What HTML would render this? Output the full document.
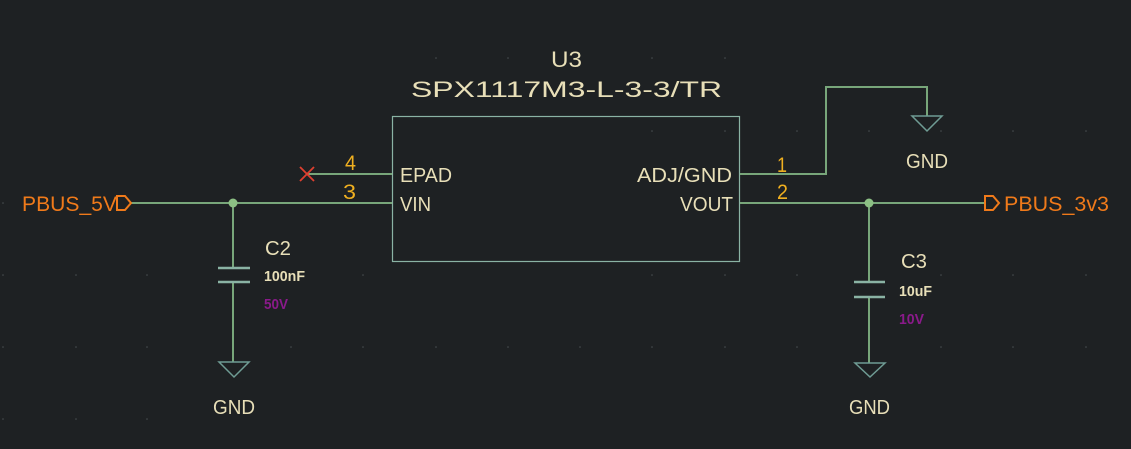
<!DOCTYPE html>
<html><head><meta charset="utf-8"><style>
html,body{margin:0;padding:0;background:#1e2123;}
svg{display:block;}
text{font-family:"Liberation Sans",sans-serif;}
</style></head><body>
<svg width="1131" height="449" viewBox="0 0 1131 449" xmlns="http://www.w3.org/2000/svg">
<rect width="1131" height="449" fill="#1e2123"/>
<g fill="#4a4f52">
<circle cx="3" cy="203" r="0.8"/><circle cx="3" cy="275" r="0.8"/><circle cx="3" cy="347" r="0.8"/><circle cx="3" cy="419" r="0.8"/>
<circle cx="76" cy="275" r="0.8"/><circle cx="76" cy="347" r="0.8"/><circle cx="76" cy="419" r="0.8"/>
<circle cx="147" cy="275" r="0.8"/><circle cx="147" cy="347" r="0.8"/><circle cx="147" cy="419" r="0.8"/>
<circle cx="436" cy="58" r="0.8"/><circle cx="508" cy="58" r="0.8"/><circle cx="652" cy="58" r="0.8"/><circle cx="725" cy="58" r="0.8"/>
<circle cx="652" cy="131" r="0.8"/><circle cx="725" cy="131" r="0.8"/><circle cx="797" cy="131" r="0.8"/><circle cx="869" cy="131" r="0.8"/><circle cx="941" cy="131" r="0.8"/><circle cx="1013" cy="131" r="0.8"/><circle cx="1086" cy="131" r="0.8"/>
<circle cx="652" cy="275" r="0.8"/><circle cx="725" cy="275" r="0.8"/><circle cx="797" cy="275" r="0.8"/><circle cx="941" cy="275" r="0.8"/><circle cx="1013" cy="275" r="0.8"/><circle cx="1086" cy="275" r="0.8"/>
<circle cx="652" cy="347" r="0.8"/><circle cx="725" cy="347" r="0.8"/><circle cx="797" cy="347" r="0.8"/><circle cx="941" cy="347" r="0.8"/><circle cx="1013" cy="347" r="0.8"/><circle cx="1086" cy="347" r="0.8"/>
<circle cx="363" cy="275" r="0.8"/><circle cx="363" cy="347" r="0.8"/><circle cx="291" cy="347" r="0.8"/><circle cx="436" cy="347" r="0.8"/><circle cx="508" cy="347" r="0.8"/><circle cx="580" cy="347" r="0.8"/>
</g>
<!-- box -->
<rect x="392.5" y="116.5" width="347" height="145" fill="none" stroke="#8ab3a4" stroke-width="1.2"/>
<!-- wires -->
<g stroke="#78a67a" stroke-width="2" fill="none">
<path d="M130 203H392"/>
<path d="M307 174H392"/>
<path d="M740 174H826V87H927V116"/>
<path d="M740 203H985"/>
<path d="M233 203V268M233 282V362"/>
<path d="M869 203V282M869 297V363"/>
</g>
<g fill="#8cc084"><circle cx="233" cy="203" r="4.5"/><circle cx="869" cy="203" r="4.5"/></g>
<!-- cap plates -->
<g stroke="#8ab3a4" stroke-width="2.5">
<path d="M218 268H250M218 282H250"/>
<path d="M854 282H885M854 297H885"/>
</g>
<!-- GND symbols -->
<g stroke="#6f9c94" stroke-width="1.5" fill="none">
<path d="M219 362H249L234 377Z"/>
<path d="M855 363H885L870 377Z"/>
<path d="M912 116H942L927 131Z"/>
</g>
<!-- no connect -->
<path d="M300 167L314 181M314 167L300 181" stroke="#e04030" stroke-width="1.8"/>
<!-- port flags -->
<g stroke="#f07a1a" stroke-width="2" fill="none">
<path d="M117 196H125L131 203L125 210H117Z"/>
<path d="M985 196H993L999 203L993 210H985Z"/>
</g>
<!-- texts -->
<g fill="#e8dfb8" font-size="22">
<text x="551" y="67" textLength="31" lengthAdjust="spacingAndGlyphs">U3</text>
<text x="411" y="97" textLength="311" lengthAdjust="spacingAndGlyphs">SPX1117M3-L-3-3/TR</text>
<text x="400" y="182" font-size="20" textLength="52" lengthAdjust="spacingAndGlyphs">EPAD</text>
<text x="400" y="211" font-size="20" textLength="31" lengthAdjust="spacingAndGlyphs">VIN</text>
<text x="637" y="182" font-size="20" textLength="95" lengthAdjust="spacingAndGlyphs">ADJ/GND</text>
<text x="680" y="211" font-size="20" textLength="53" lengthAdjust="spacingAndGlyphs">VOUT</text>
<text x="906" y="168" font-size="20" textLength="42" lengthAdjust="spacingAndGlyphs">GND</text>
<text x="213" y="414" font-size="20" textLength="42" lengthAdjust="spacingAndGlyphs">GND</text>
<text x="849" y="414" font-size="20" textLength="41" lengthAdjust="spacingAndGlyphs">GND</text>
<text x="265" y="255" font-size="20" textLength="26" lengthAdjust="spacingAndGlyphs">C2</text>
<text x="901" y="268" font-size="20" textLength="26" lengthAdjust="spacingAndGlyphs">C3</text>
<text x="264" y="281" font-size="15" font-weight="bold" textLength="41" lengthAdjust="spacingAndGlyphs">100nF</text>
<text x="899" y="296" font-size="15" font-weight="bold" textLength="33" lengthAdjust="spacingAndGlyphs">10uF</text>
</g>
<g fill="#8a1a8a" font-size="15" font-weight="bold">
<text x="264" y="309" textLength="24" lengthAdjust="spacingAndGlyphs">50V</text>
<text x="899" y="324" textLength="25" lengthAdjust="spacingAndGlyphs">10V</text>
</g>
<g fill="#f0b020" font-size="21">
<text x="345" y="170" textLength="11" lengthAdjust="spacingAndGlyphs">4</text>
<text x="343" y="199" textLength="13" lengthAdjust="spacingAndGlyphs">3</text>
<text x="777" y="172" textLength="10" lengthAdjust="spacingAndGlyphs">1</text>
<text x="777" y="199" textLength="11" lengthAdjust="spacingAndGlyphs">2</text>
</g>
<g fill="#f07a1a" font-size="21">
<text x="22" y="211" textLength="95" lengthAdjust="spacingAndGlyphs">PBUS_5V</text>
<text x="1004" y="211" textLength="105" lengthAdjust="spacingAndGlyphs">PBUS_3v3</text>
</g>
</svg>
</body></html>
